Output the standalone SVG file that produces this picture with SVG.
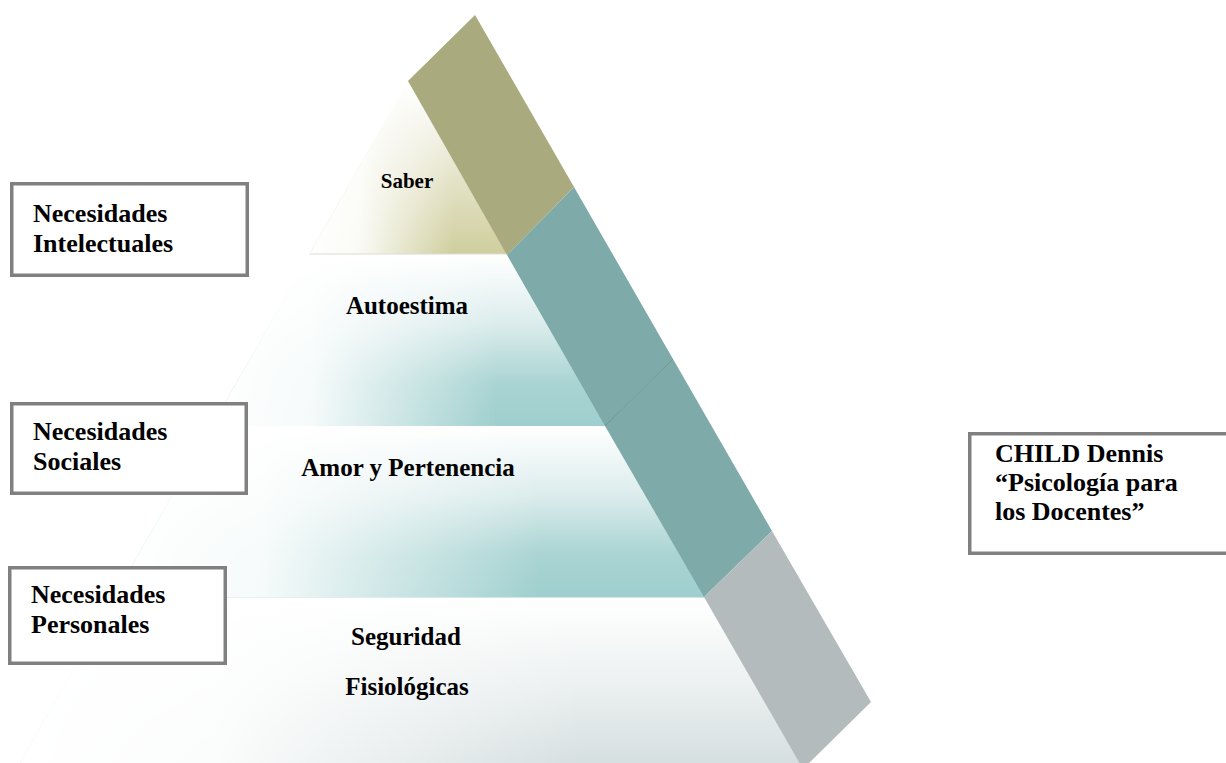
<svg xmlns="http://www.w3.org/2000/svg" width="1226" height="763" viewBox="0 0 1226 763">
  <style>
    .box { fill: #ffffff; stroke: #808080; stroke-width: 3.5; }
    .bt { font-family: "Liberation Serif", "Times New Roman", serif; font-weight: bold; font-size: 26px; fill: #000; }
    .pt { font-family: "Liberation Serif", "Times New Roman", serif; font-weight: bold; font-size: 25px; fill: #000; text-anchor: middle; }
  </style>
  <defs>
    <linearGradient id="v1" x1="0" y1="0" x2="0" y2="1">
      <stop offset="0" stop-color="#ffffff"/>
      <stop offset="0.4" stop-color="#ecebd9"/>
      <stop offset="1" stop-color="#cfce9d"/>
    </linearGradient>
    <linearGradient id="v2" x1="0" y1="0" x2="0" y2="1">
      <stop offset="0" stop-color="#ffffff"/>
      <stop offset="0.4" stop-color="#dcecec"/>
      <stop offset="0.75" stop-color="#a9d4d3"/>
      <stop offset="1" stop-color="#9ecfce"/>
    </linearGradient>
    <linearGradient id="v4" x1="0" y1="0" x2="0" y2="1">
      <stop offset="0" stop-color="#ffffff"/>
      <stop offset="0.5" stop-color="#edf1f1"/>
      <stop offset="1" stop-color="#d6dfe0"/>
    </linearGradient>
    <linearGradient id="h" x1="0" y1="0" x2="1" y2="0">
      <stop offset="0" stop-color="#ffffff" stop-opacity="1"/>
      <stop offset="0.25" stop-color="#ffffff" stop-opacity="0.9"/>
      <stop offset="0.72" stop-color="#ffffff" stop-opacity="0"/>
    </linearGradient>
  </defs>

  <g id="pyramid">
    <g id="tier-saber">
      <polygon points="408,81 309.6,254 510,254 440,81" fill="url(#v1)"/>
      <polygon points="408,81 309.6,254 510,254 440,81" fill="url(#h)"/>
      <line x1="309.6" y1="254" x2="508" y2="254" stroke="#dcdcd6" stroke-width="1.2"/>
      <text class="pt" x="407" y="188" style="font-size:21px">Saber</text>
    </g>
    <g id="tier-autoestima">
      <polygon points="309,255.5 510,255.5 608,426 211.7,426" fill="url(#v2)"/>
      <polygon points="309,255.5 510,255.5 608,426 211.7,426" fill="url(#h)"/>
      <text class="pt" x="407" y="314">Autoestima</text>
    </g>
    <g id="tier-amor">
      <polygon points="211,427 608,427 707,597.5 113.8,597.5" fill="url(#v2)"/>
      <polygon points="211,427 608,427 707,597.5 113.8,597.5" fill="url(#h)"/>
      <text class="pt" x="408" y="476">Amor y Pertenencia</text>
    </g>
    <g id="tier-base">
      <polygon points="113,599 707,599 803,763 20,763" fill="url(#v4)"/>
      <polygon points="113,599 707,599 803,763 20,763" fill="url(#h)"/>
      <text class="pt" x="406" y="645">Seguridad</text>
      <text class="pt" x="407" y="695">Fisiológicas</text>
    </g>
  </g>

  <g id="band">
    <polygon points="408,81 475,15 574,187 507,255" fill="#a9aa7e"/>
    <polygon points="507,255 574,187 673,359 605,426" fill="#7eaba9"/>
    <polygon points="605,426 673,359 772,531 704,597" fill="#7eaba9"/>
    <line x1="605" y1="426" x2="673" y2="359" stroke="#6d9896" stroke-width="1"/>
    <polygon points="704,597 772,531 871,702 803,769" fill="#b4bbbc"/>
  </g>

  <g id="box-intelectuales">
    <rect class="box" x="11.75" y="183.75" width="235.5" height="91.5"/>
    <text class="bt" x="33" y="222">Necesidades</text>
    <text class="bt" x="33" y="252">Intelectuales</text>
  </g>
  <g id="box-sociales">
    <rect class="box" x="11.75" y="403.75" width="234.5" height="89.5"/>
    <text class="bt" x="33" y="440">Necesidades</text>
    <text class="bt" x="33" y="470">Sociales</text>
  </g>
  <g id="box-personales">
    <rect class="box" x="9.75" y="567.75" width="215.5" height="95.5"/>
    <text class="bt" x="31" y="603">Necesidades</text>
    <text class="bt" x="31" y="633">Personales</text>
  </g>
  <g id="box-child">
    <rect class="box" x="969.75" y="433.75" width="262" height="119.5"/>
    <text class="bt" x="995" y="462">CHILD Dennis</text>
    <text class="bt" x="995" y="491">“Psicología para</text>
    <text class="bt" x="995" y="520">los Docentes”</text>
  </g>
  <g id="connectors"/>
</svg>
